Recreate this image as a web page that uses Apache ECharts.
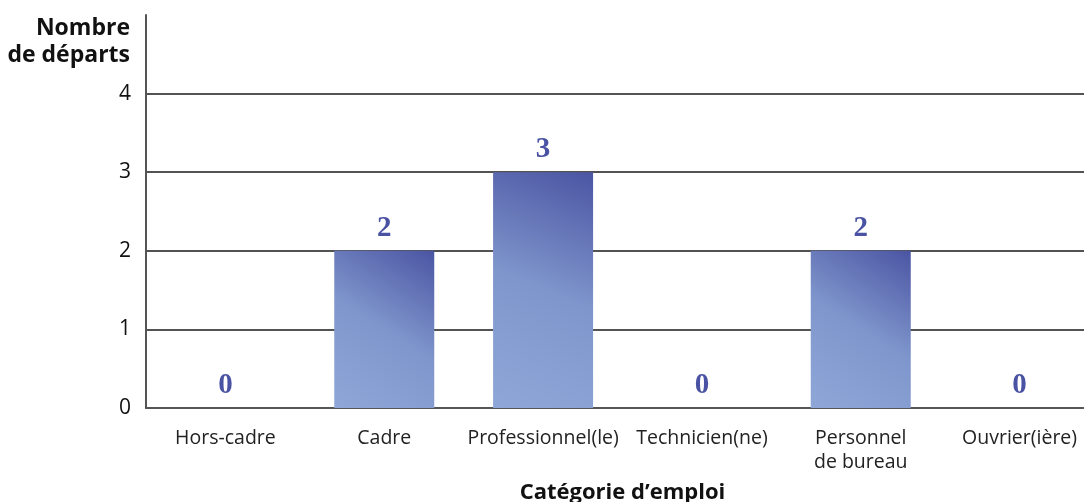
<!DOCTYPE html>
<html>
<head>
<meta charset="utf-8">
<script src="https://cdn.jsdelivr.net/npm/echarts@6/dist/echarts.min.js"></script>
<style>
  html, body { margin: 0; padding: 0; background: #fff; }
  #chart { width: 1084px; height: 502px; }
</style>
</head>
<body>
<div id="chart"></div>
<script>
// categories and values
const categories = ['Hors-cadre', 'Cadre', 'Professionnel(le)', 'Technicien(ne)', 'Personnel\nde bureau', 'Ouvrier(ière)'];
const departs = [0, 2, 3, 0, 2, 0];
const yTicks = [0, 1, 2, 3, 4];

const font = 'Open Sans';
const chart = echarts.init(document.getElementById('chart'));

const option = {
    animation: false,
    grid: { left: 146, right: -15, top: 15, bottom: 94, containLabel: false, outerBoundsMode: 'none' },
    xAxis: {
        type: 'category',
        data: categories,
        name: 'Catégorie d’emploi',
        nameLocation: 'middle',
        nameGap: 74,
        nameTextStyle: { fontFamily: font, fontWeight: 'bold', fontSize: 22, color: '#111' },
        axisLine: { lineStyle: { color: '#555', width: 2 } },
        axisTick: { show: false },
        axisLabel: { fontFamily: font, fontSize: 19.5, color: '#222', margin: 18, lineHeight: 24, interval: 0 }
    },
    yAxis: {
        type: 'value',
        min: 0,
        max: 5,
        interval: 1,
        name: 'Nombre\nde départs',
        nameLocation: 'end',
        nameGap: 0,
        nameTextStyle: {
            fontFamily: font, fontWeight: 'bold', fontSize: 23, color: '#111',
            align: 'right', verticalAlign: 'top', lineHeight: 27, padding: [0, 16, 0, 0]
        },
        axisLine: { show: true, lineStyle: { color: '#555', width: 2 } },
        axisTick: { show: false },
        axisLabel: {
            fontFamily: font, fontSize: 21, color: '#111', margin: 15,
            formatter: v => yTicks.includes(v) ? String(v) : ''
        },
        splitLine: { show: true, showMaxLine: false, lineStyle: { color: '#1a1a1a', width: 1.5 } }
    },
    series: [{
        type: 'bar',
        data: departs,
        barWidth: 100,
        itemStyle: {
            color: new echarts.graphic.LinearGradient(0, 1, 1, 0, [
                { offset: 0, color: '#8ea7d8' },
                { offset: 0.5, color: '#7f96cc' },
                { offset: 1, color: '#4b55a3' }
            ])
        },
        label: {
            show: true,
            position: 'top',
            distance: 8,
            fontFamily: 'Liberation Serif',
            fontWeight: 'bold',
            fontSize: 29,
            color: '#4a53a3'
        }
    }]
};

chart.setOption(option);
</script>
</body>
</html>
